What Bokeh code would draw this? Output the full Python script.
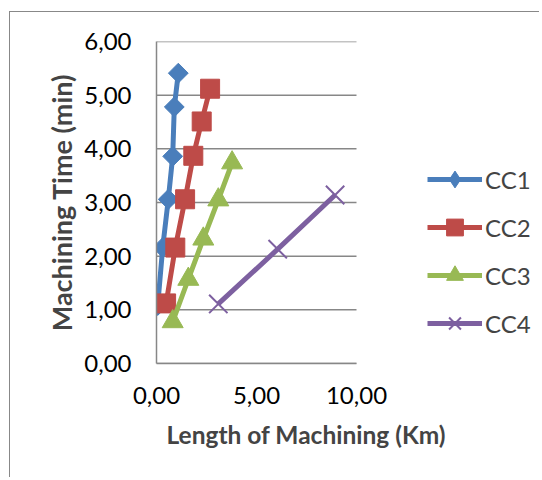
import numpy as np
from bokeh.plotting import figure
from bokeh.models import Legend, LegendItem, FixedTicker, Title, Range1d
from bokeh.embed import file_html
from bokeh.resources import INLINE

# ---- data ----
series_names = ["CC1", "CC2", "CC3", "CC4"]
cc1_x = [0.06, 0.31, 0.59, 0.81, 0.89, 1.09]
cc1_y = [1.08, 2.16, 3.06, 3.86, 4.78, 5.41]
cc2_x = [0.48, 0.94, 1.43, 1.84, 2.26, 2.68]
cc2_y = [1.12, 2.16, 3.06, 3.87, 4.51, 5.12]
cc3_x = [0.81, 1.59, 2.34, 3.09, 3.78]
cc3_y = [0.78, 1.57, 2.32, 3.05, 3.74]
cc4_x = [3.09, 6.06, 8.93]
cc4_y = [1.11, 2.13, 3.14]

x_ticks = [0, 5, 10]
x_tick_labels = ["0,00", "5,00", "10,00"]
y_ticks = [0, 1, 2, 3, 4, 5, 6]
y_tick_labels = ["0,00", "1,00", "2,00", "3,00", "4,00", "5,00", "6,00"]

x_title = "Length of Machining (Km)"
y_title = "Machining Time (min)"

FONT = "Lato"
GRID = "#878787"

# the frame is widened to the right so that the legend (drawn inside it) is not clipped;
# the axis line and gridlines stop at x = 10
p = figure(width=530, height=466, output_backend="svg", toolbar_location=None,
           x_range=Range1d(0, 19), y_range=Range1d(0, 6),
           min_border_left=146, min_border_right=4,
           min_border_top=29, min_border_bottom=115,
           margin=(11, 0, 0, 9),
           styles={"border-left": "1px solid #888888", "border-top": "1px solid #888888"})
p.outline_line_color = None
p.background_fill_color = "white"
p.border_fill_color = "white"

# axes
p.xaxis.ticker = FixedTicker(ticks=x_ticks)
p.yaxis.ticker = FixedTicker(ticks=y_ticks)
p.xaxis.bounds = (x_ticks[0], x_ticks[-1])
p.xaxis.major_label_overrides = {t: l for t, l in zip(x_ticks, x_tick_labels)}
p.yaxis.major_label_overrides = {t: l for t, l in zip(y_ticks, y_tick_labels)}
for ax in (p.xaxis, p.yaxis):
    ax.axis_line_color = GRID
    ax.axis_line_width = 1.5
    ax.major_tick_line_color = None
    ax.minor_tick_line_color = None
    ax.major_tick_in = 0
    ax.major_tick_out = 0
    ax.major_label_text_font = FONT
    ax.major_label_text_font_size = "24px"
    ax.major_label_text_color = "black"
p.yaxis.major_label_standoff = 25
p.xaxis.major_label_standoff = 23

p.yaxis.axis_label = y_title
p.yaxis.axis_label_text_font = FONT
p.yaxis.axis_label_text_font_style = "bold"
p.yaxis.axis_label_text_font_size = "27px"
p.yaxis.axis_label_standoff = 3

p.add_layout(Title(text=x_title, align="left", offset=10, text_font=FONT,
                   text_font_style="bold", text_font_size="24.5px",
                   standoff=22), "below")

p.xgrid.grid_line_color = None
p.ygrid.grid_line_color = None
# horizontal gridlines, limited to the x extent of the axis
p.segment(x0=[x_ticks[0]] * len(y_ticks), x1=[x_ticks[-1]] * len(y_ticks),
          y0=y_ticks, y1=y_ticks, line_color=GRID, line_width=1.5)

# series
colors = ["#4A7EBB", "#BE4B48", "#98B954", "#7D60A0"]
xs = [cc1_x, cc2_x, cc3_x, cc4_x]
ys = [cc1_y, cc2_y, cc3_y, cc4_y]
items = []
for i, name in enumerate(series_names):
    c = colors[i]
    ln = p.line(xs[i], ys[i], line_color=c, line_width=5)
    if i == 0:
        # diamond used for the legend swatch (legends ignore marker angle); it sits hidden
        # under the rotated squares that give the near-square diamonds of the reference
        lg = p.scatter(xs[i], ys[i], marker="diamond", size=18, fill_color=c, line_color=c)
        mk = p.scatter(xs[i], ys[i], marker="square", size=14, angle=np.pi / 4,
                       fill_color=c, line_color=c)
    elif i == 1:
        mk = p.scatter(xs[i], ys[i], marker="square", size=19, fill_color=c, line_color=c)
        lg = mk
    elif i == 2:
        mk = p.scatter(xs[i], ys[i], marker="triangle", size=21, fill_color=c, line_color=c)
        lg = mk
    else:
        mk = p.scatter(xs[i], ys[i], marker="x", size=26, line_color=c, line_width=2)
        lg = mk
    items.append(LegendItem(label=name, renderers=[ln, lg]))

legend = Legend(items=items, location=(271, 19), orientation="vertical",
                glyph_width=55, glyph_height=42, label_height=42,
                label_standoff=3, spacing=6, padding=0, margin=0,
                border_line_color=None, background_fill_alpha=0,
                label_text_font=FONT, label_text_font_size="24px")
p.add_layout(legend, "center")

open("out.html", "w").write(file_html(p, INLINE))
